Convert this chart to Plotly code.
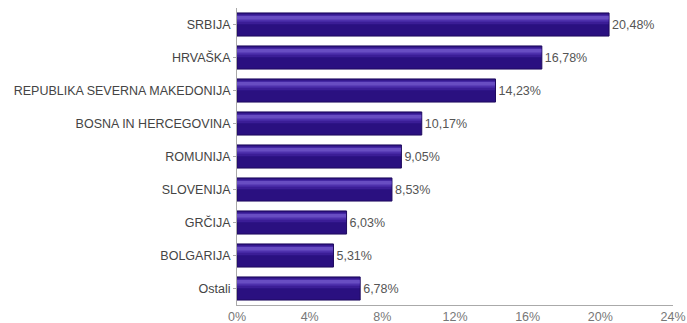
import plotly.graph_objects as go

# Share by country
countries = ["SRBIJA", "HRVAŠKA", "REPUBLIKA SEVERNA MAKEDONIJA", "BOSNA IN HERCEGOVINA",
             "ROMUNIJA", "SLOVENIJA", "GRČIJA", "BOLGARIJA", "Ostali"]
shares = [20.48, 16.78, 14.23, 10.17, 9.05, 8.53, 6.03, 5.31, 6.78]
x_ticks = [0, 4, 8, 12, 16, 20, 24]

labels = [f"{v:.2f}".replace(".", ",") + "%" for v in shares]

FONT = "Liberation Sans, Arial, sans-serif"

fig = go.Figure()

# Base bar (dark) carrying the value labels
fig.add_trace(go.Bar(
    y=countries, x=shares, orientation="h",
    width=0.7, offset=-0.35,
    marker=dict(color="#2a1080", line=dict(color="#1e0a5e", width=1)),
    text=labels, textposition="outside", cliponaxis=False,
    textfont=dict(family=FONT, size=12.5, color="#555555"),
    hoverinfo="skip",
))

# Layered bands giving the bars a glossy vertical gradient
bands = [
    (-0.31, 0.30, "#3b1d96"),
    (-0.28, 0.20, "#4a2ca8"),
    (-0.25, 0.12, "#5b3fb8"),
    (-0.23, 0.06, "#684dc2"),
]
for off, w, col in bands:
    fig.add_trace(go.Bar(
        y=countries, x=[v - 0.03 for v in shares], orientation="h",
        width=w, offset=off,
        marker=dict(color=col, line=dict(width=0)),
        hoverinfo="skip",
    ))

fig.update_layout(
    width=687, height=323,
    margin=dict(l=237, r=14, t=8, b=18, autoexpand=False),
    barmode="overlay",
    showlegend=False,
    paper_bgcolor="white", plot_bgcolor="white",
    font=dict(family=FONT, size=12.5, color="#444444"),
    xaxis=dict(
        range=[0, 24], tickvals=x_ticks,
        ticktext=[f"{t}%" for t in x_ticks],
        ticklabeloverflow="allow", automargin=False,
        showgrid=False, zeroline=False,
        showline=True, linecolor="#aaaaaa", linewidth=1,
        ticks="", tickfont=dict(size=12.5, color="#777777"),
    ),
    yaxis=dict(
        autorange="reversed", automargin=False,
        showgrid=False, zeroline=False,
        showline=True, linecolor="#aaaaaa", linewidth=1,
        ticks="outside", ticklen=3, tickcolor="#aaaaaa",
        tickfont=dict(size=12.5, color="#444444"),
    ),
)

fig.write_html("out.html")
